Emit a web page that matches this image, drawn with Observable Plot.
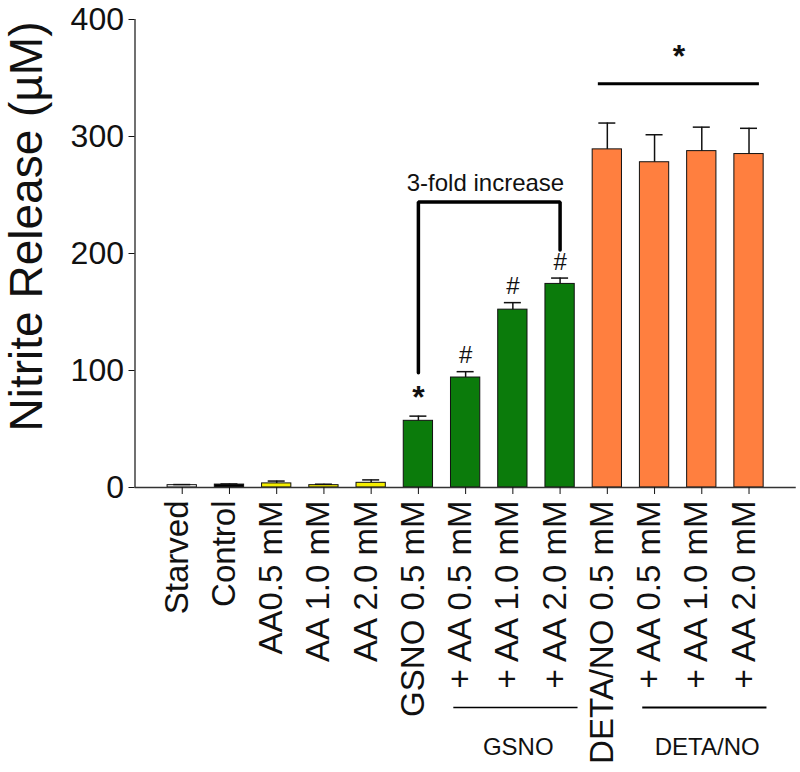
<!DOCTYPE html>
<html><head><meta charset="utf-8">
<script src="https://cdn.jsdelivr.net/npm/d3@7"></script>
<script src="https://cdn.jsdelivr.net/npm/@observablehq/plot@0.6"></script>
<style>body{margin:0;background:#fff;}</style>
</head><body><div id="chart"></div>
<script>
// ---- data ----
const labels = ["Starved", "Control", "AA0.5 mM", "AA 1.0 mM", "AA 2.0 mM",
  "GSNO 0.5 mM", "+ AA 0.5 mM", "+ AA 1.0 mM", "+ AA 2.0 mM",
  "DETA/NO 0.5 mM", "+ AA 0.5 mM", "+ AA 1.0 mM", "+ AA 2.0 mM"];
const groups = ["starved", "control", "aa", "aa", "aa", "gsno", "gsno", "gsno", "gsno", "deta", "deta", "deta", "deta"];
const means = [2, 2.5, 3.5, 2, 4, 57, 94, 152, 174, 289, 278, 287.5, 285];
const errors = [0.5, 0.5, 2, 0.8, 2.5, 4, 5, 6, 5, 22.5, 23.5, 20.5, 22];
const sigSymbols = ["", "", "", "", "", "*", "#", "#", "#", "", "", "", ""];
const yTicks = [0, 100, 200, 300, 400];
const yLabel = "Nitrite Release (µM)";
const groupNames = ["GSNO", "DETA/NO"];
const groupFirst = [6, 10];
const groupLast = [8, 12];
const bracketFrom = 5, bracketTo = 8, bracketTop = 244, bracketFromEnd = 98, bracketToEnd = 203;
const bracketText = "3-fold increase";
const detaSigFrom = 8.81, detaSigTo = 12.22, detaSigY = 345, detaSigSymbol = "*";

// ---- build ----
const colors = {starved: "#ffffff", control: "#000000", aa: "#f5ee00", gsno: "#0b7b0b", deta: "#ff7f3f"};
const data = labels.map((label, i) => ({i, label, group: groups[i], mean: means[i], err: errors[i], sig: sigSymbols[i]}));
const groupData = groupNames.map((name, k) => ({name, x1: groupFirst[k] - 0.25, x2: groupLast[k] + 0.38, bold: k === 1}));
const bracket = [
  {x: bracketFrom, y: bracketFromEnd}, {x: bracketFrom, y: bracketTop},
  {x: bracketTo, y: bracketTop}, {x: bracketTo, y: bracketToEnd}
];
const hw = 0.31, cap = 0.18;
const font = "'Liberation Sans', Arial, sans-serif";

const plot = Plot.plot({
  width: 800, height: 772,
  marginLeft: 134.5, marginRight: 4.25, marginTop: 19, marginBottom: 285,
  style: {fontFamily: font, background: "white", color: "#111"},
  x: {domain: [-1, 13], axis: null},
  y: {domain: [0, 400], axis: null},
  marks: [
    Plot.rect(data, {x1: d => d.i - hw, x2: d => d.i + hw, y1: 0, y2: "mean",
      fill: d => colors[d.group], stroke: "#111", strokeWidth: 1}),
    Plot.ruleX(data, {x: "i", y1: "mean", y2: d => d.mean + d.err, stroke: "#111", strokeWidth: 1.5}),
    Plot.ruleY(data, {y: d => d.mean + d.err, x1: d => d.i - cap, x2: d => d.i + cap, stroke: "#111", strokeWidth: 1.5}),
    Plot.ruleX([-1], {y1: 0, y2: 400, stroke: "#111", strokeWidth: 1.2}),
    Plot.ruleY([0], {stroke: "#333", strokeWidth: 1.5}),
    Plot.axisY({ticks: yTicks, tickSize: 6, tickPadding: 5, fontSize: 32, label: null, tickFormat: d => String(d)}),
    // x ticks and rotated category labels
    Plot.ruleX(data, {x: "i", y1: 0, y2: 0, insetBottom: -7, stroke: "#111", strokeWidth: 1}),
    Plot.text(data, {x: "i", y: 0, text: "label", rotate: -90, textAnchor: "end", dy: 13, dx: -5, fontSize: 33}),
    Plot.text([yLabel], {frameAnchor: "left", rotate: -90, textAnchor: "middle", dx: -108, dy: -27, fontSize: 46}),
    // significance symbols
    Plot.text(data.filter(d => d.sig === "#"), {x: "i", y: d => d.mean + d.err, text: "sig", dy: -16, fontSize: 24}),
    Plot.text(data.filter(d => d.sig === "*"), {x: "i", y: d => d.mean + d.err, text: "sig", dy: -18, fontSize: 32, fontWeight: "bold"}),
    // bracket
    Plot.line(bracket, {x: "x", y: "y", stroke: "#000", strokeWidth: 3.5, strokeLinejoin: "miter"}),
    Plot.text([bracketText], {x: (bracketFrom + bracketTo) / 2 - 0.08, y: bracketTop, dy: -19, fontSize: 24}),
    // DETA significance
    Plot.ruleY([detaSigY], {x1: detaSigFrom, x2: detaSigTo, stroke: "#000", strokeWidth: 3}),
    Plot.text([detaSigSymbol], {x: (detaSigFrom + detaSigTo) / 2, y: detaSigY, dy: -27, fontSize: 32, fontWeight: "bold"}),
    // group underlines and labels
    Plot.ruleY(groupData, {y: 0, x1: "x1", x2: "x2", dy: 220, stroke: "#000", strokeWidth: d => d.bold ? 2.2 : 1.3}),
    Plot.text(groupData, {x: d => (d.x1 + d.x2) / 2 + 0.05, y: 0, text: "name", dy: 260, fontSize: 24})
  ]
});
document.getElementById("chart").appendChild(plot);
</script>
</body></html>
